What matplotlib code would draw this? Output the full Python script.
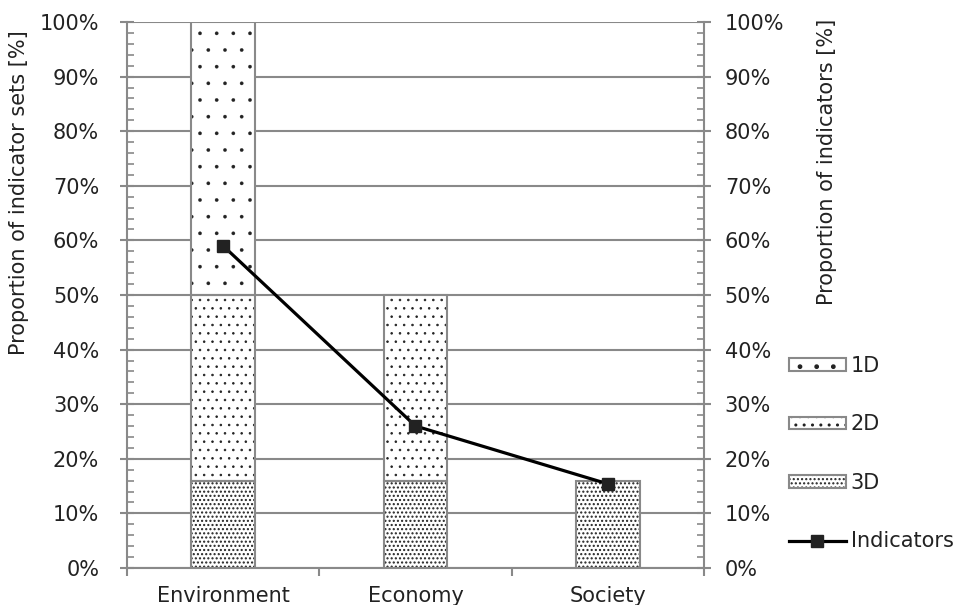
import matplotlib as mpl
import matplotlib.pyplot as plt
import numpy as np
from matplotlib.lines import Line2D
from matplotlib.patches import Patch
from matplotlib.legend_handler import HandlerTuple
from matplotlib.ticker import MultipleLocator, PercentFormatter

categories = ["Environment", "Economy", "Society"]
share_1d = [50, 0, 0]
share_2d = [34, 34, 0]
share_3d = [16, 16, 16]
indicators = [59, 26, 15.4]

grey = "#898989"
dark = "#222222"
fs = 15
plt.rcParams["font.family"] = "DejaVu Sans"

# dot pattern and dot weight per dimension
hatches = {"1D": ".", "2D": "..", "3D": "...."}
hatch_lw = {"1D": 0.2, "2D": 0.6, "3D": 1.0}

fig = plt.figure(figsize=(9.59, 6.05), dpi=100)
ax = fig.add_axes([0.1324, 0.0612, 0.6017, 0.9024])

x = np.arange(len(categories))
w = 0.33
bottom = np.zeros(len(categories))
for vals, key in [(share_3d, "3D"), (share_2d, "2D"), (share_1d, "1D")]:
    vals = np.array(vals, dtype=float)
    m = vals > 0
    # dotted fill first, then the grey outline on top
    with mpl.rc_context({"hatch.linewidth": hatch_lw[key]}):
        ax.bar(x[m], vals[m], w, bottom=bottom[m], color="white", edgecolor=dark,
               linewidth=0, hatch=hatches[key], zorder=3)
    ax.bar(x[m], vals[m], w, bottom=bottom[m], fill=False, edgecolor=grey,
           linewidth=1.5, zorder=4)
    bottom += vals

ax.set_xlim(-0.5, 2.5)
ax.set_ylim(0, 100)
ax.yaxis.set_major_locator(MultipleLocator(10))
ax.yaxis.set_minor_locator(MultipleLocator(2))
ax.yaxis.set_major_formatter(PercentFormatter(decimals=0))
ax.grid(axis="y", color=grey, linewidth=1.5, zorder=0)
ax.set_axisbelow(True)
ax.set_xticks([-0.5, 0.5, 1.5, 2.5])
ax.set_xticklabels([])
ax.set_xticks(x, minor=True)
ax.set_xticklabels(categories, minor=True, fontsize=fs, color=dark)
ax.tick_params(axis="x", which="minor", length=0, pad=13)
ax.tick_params(axis="x", which="major", length=6, width=1.5, color=grey)
ax.tick_params(axis="y", which="major", direction="inout", length=10, width=1.5,
               color=grey, labelsize=fs, labelcolor=dark, pad=15)
ax.tick_params(axis="y", which="minor", direction="in", length=5, width=1.2, color=grey)
for s in ["top", "right"]:
    ax.spines[s].set_visible(False)
for s in ["left", "bottom"]:
    ax.spines[s].set_color(grey)
    ax.spines[s].set_linewidth(1.5)
ax.set_ylabel("Proportion of indicator sets [%]", fontsize=fs, color=dark)
ax.yaxis.set_label_coords(-0.17, 0.687)

ax2 = ax.twinx()
ax2.plot(x, indicators, color="black", linewidth=2.3, marker="s", markersize=8,
         markerfacecolor=dark, markeredgecolor=dark, zorder=5)
ax2.set_ylim(0, 100)
ax2.yaxis.set_major_locator(MultipleLocator(10))
ax2.yaxis.set_minor_locator(MultipleLocator(2))
ax2.yaxis.set_major_formatter(PercentFormatter(decimals=0))
ax2.tick_params(axis="y", which="major", direction="inout", length=10, width=1.5,
                color=grey, labelsize=fs, labelcolor=dark, pad=10)
ax2.tick_params(axis="y", which="minor", direction="in", length=5, width=1.2, color=grey)
for s in ["top", "left", "bottom"]:
    ax2.spines[s].set_visible(False)
ax2.spines["right"].set_color(grey)
ax2.spines["right"].set_linewidth(1.5)
ax2.set_ylabel("Proportion of indicators [%]", fontsize=fs, color=dark)
ax2.yaxis.set_label_coords(1.195, 0.744)


def swatch(key):
    with mpl.rc_context({"hatch.linewidth": hatch_lw[key]}):
        fill = Patch(facecolor="white", edgecolor=dark, linewidth=0, hatch=hatches[key])
    return (fill, Patch(fill=False, edgecolor=grey, linewidth=1.5))


handles = [swatch("1D"), swatch("2D"), swatch("3D"),
           Line2D([0], [0], color="black", linewidth=2.3, marker="s", markersize=8,
                  markerfacecolor=dark, markeredgecolor=dark)]
labels = ["1D", "2D", "3D", "Indicators"]
fig.legend(handles, labels, loc="upper left", bbox_to_anchor=(0.823, 0.412),
           frameon=False, fontsize=fs, handlelength=2.7, handleheight=0.55,
           handletextpad=0.25, labelspacing=1.85, borderaxespad=0, borderpad=0,
           labelcolor=dark, handler_map={tuple: HandlerTuple(ndivide=1, pad=0)})

fig.savefig("out.png", dpi=100)
